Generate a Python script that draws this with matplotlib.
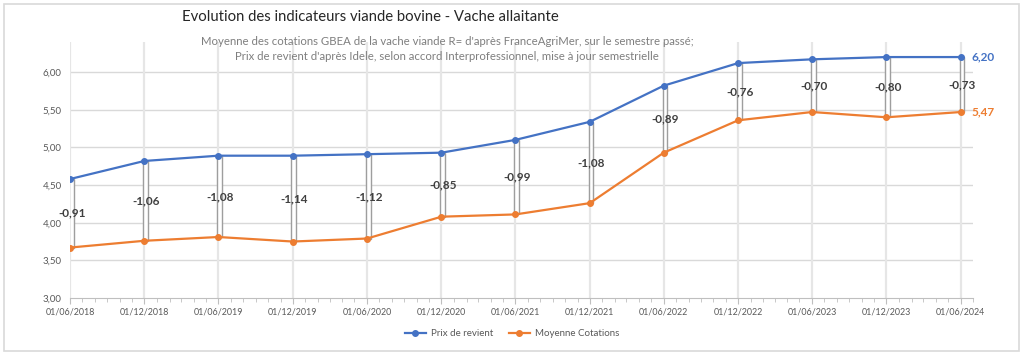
import pandas as pd
import matplotlib.pyplot as plt
import matplotlib.dates as mdates
from matplotlib.patches import Rectangle

plt.rcParams['font.family'] = ['Lato', 'DejaVu Sans']

# Data
dates = ['2018-06-01', '2018-12-01', '2019-06-01', '2019-12-01', '2020-06-01',
         '2020-12-01', '2021-06-01', '2021-12-01', '2022-06-01', '2022-12-01',
         '2023-06-01', '2023-12-01', '2024-06-01']
prix_revient = [4.58, 4.82, 4.89, 4.89, 4.91, 4.93, 5.10, 5.34, 5.82, 6.12, 6.17, 6.20, 6.20]
moyenne_cotations = [3.67, 3.76, 3.81, 3.75, 3.79, 4.08, 4.11, 4.26, 4.93, 5.36, 5.47, 5.40, 5.47]
ecarts = [-0.91, -1.06, -1.08, -1.14, -1.12, -0.85, -0.99, -1.08, -0.89, -0.76, -0.70, -0.80, -0.73]

x = pd.to_datetime(dates)
blue = '#4472C4'
orange = '#ED7D31'
grid = '#D9D9D9'

fig = plt.figure(figsize=(10.24, 3.55), dpi=100)
fig.patches.append(Rectangle((0.004, 0.012), 0.991, 0.976, transform=fig.transFigure,
                             fill=False, edgecolor='#D9D9D9', linewidth=1.2))
ax = fig.add_axes([70 / 1024, 1 - 298 / 355, 903 / 1024, 256 / 355])

ax.set_ylim(3.0, 6.4)
ax.set_xlim(pd.Timestamp('2018-06-01'), pd.Timestamp('2024-07-01'))
ax.set_yticks([3.0, 3.5, 4.0, 4.5, 5.0, 5.5, 6.0])
ax.yaxis.set_major_formatter(plt.FuncFormatter(lambda v, p: f'{v:.2f}'.replace('.', ',')))
ax.set_xticks(x)
ax.set_xticklabels([d.strftime('%d/%m/%Y') for d in x])
ax.xaxis.set_minor_locator(mdates.MonthLocator())

# gridlines by hand so vertical ones only sit on the data dates
for v in [3.5, 4.0, 4.5, 5.0, 5.5, 6.0]:
    ax.axhline(v, color=grid, linewidth=1, zorder=0)
for d in x:
    ax.axvline(d, color='#E6E6E6', linewidth=1.6, zorder=0)

# up/down bars between the two series
low = [min(a, b) for a, b in zip(prix_revient, moyenne_cotations)]
height = [abs(a - b) for a, b in zip(prix_revient, moyenne_cotations)]
ax.bar(x + pd.Timedelta(days=3), height, bottom=low, width=12, facecolor='white',
       edgecolor='#9E9E9E', linewidth=1.0, zorder=1)

ax.plot(x, prix_revient, color=blue, linewidth=1.6, marker='o', markersize=4,
        label='Prix de revient', zorder=3)
ax.plot(x, moyenne_cotations, color=orange, linewidth=1.6, marker='o', markersize=4,
        label='Moyenne Cotations', zorder=3)

# gap labels
for d, a, b, e in zip(x, prix_revient, moyenne_cotations, ecarts):
    ax.text(d + pd.Timedelta(days=4), (a + b) / 2, f'{e:.2f}'.replace('.', ','),
            ha='center', va='center', fontsize=8.5, fontweight='bold', color='#404040', zorder=4)

# last values
ax.annotate(f'{prix_revient[-1]:.2f}'.replace('.', ','), (x[-1], prix_revient[-1]),
            xytext=(8, 0), textcoords='offset points', va='center', ha='left',
            fontsize=8.5, fontweight='bold', color=blue, annotation_clip=False)
ax.annotate(f'{moyenne_cotations[-1]:.2f}'.replace('.', ','), (x[-1], moyenne_cotations[-1]),
            xytext=(8, 0), textcoords='offset points', va='center', ha='left',
            fontsize=8.5, fontweight='bold', color=orange, annotation_clip=False)

for s in ['top', 'right', 'left']:
    ax.spines[s].set_visible(False)
ax.spines['bottom'].set_color('#BFBFBF')
ax.tick_params(axis='y', length=0, labelsize=7, labelcolor='#595959', pad=6)
ax.tick_params(axis='x', which='major', length=4, color='#BFBFBF', labelsize=6.4,
               labelcolor='#595959', pad=3)
ax.tick_params(axis='x', which='minor', length=3, color='#BFBFBF')

fig.text(370 / 1024, 1 - 17 / 355, 'Evolution des indicateurs viande bovine - Vache allaitante',
         ha='center', va='center', fontsize=10.7, color='#262626')
fig.text(447 / 1024, 1 - 49 / 355,
         "Moyenne des cotations GBEA de la vache viande R= d'après FranceAgriMer, sur le semestre passé;\n"
         "Prix de revient d'après Idele, selon accord Interprofessionnel, mise à jour semestrielle",
         ha='center', va='center', fontsize=8.2, color='#7F7F7F', linespacing=1.35)

fig.legend(loc='center', bbox_to_anchor=(512 / 1024, 1 - 334 / 355), ncol=2, frameon=False,
           fontsize=7, labelcolor='#595959', handlelength=2.2, handletextpad=0.5,
           columnspacing=1.6)

fig.savefig('out.png', dpi=100)
